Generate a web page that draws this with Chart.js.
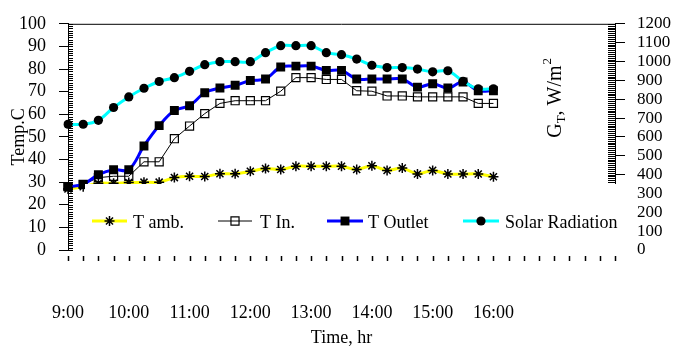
<!DOCTYPE html>
<html>
<head>
<meta charset="utf-8">
<style>
  html, body { margin: 0; padding: 0; background: #fff; }
</style>
<script src="https://cdn.jsdelivr.net/npm/chart.js@4.4.1/dist/chart.umd.min.js"></script>
</head>
<body>
<canvas id="myChart" width="675" height="349"></canvas>
<script>
// Time axis runs to 18:00, the readings stop at 16:00
const timeAxis = ['9:00', '9:15', '9:30', '9:45', '10:00', '10:15', '10:30', '10:45',
    '11:00', '11:15', '11:30', '11:45', '12:00', '12:15', '12:30', '12:45',
    '13:00', '13:15', '13:30', '13:45', '14:00', '14:15', '14:30', '14:45',
    '15:00', '15:15', '15:30', '15:45', '16:00', '16:15', '16:30', '16:45',
    '17:00', '17:15', '17:30', '17:45', '18:00'];
const hourLabels = ['9:00', '10:00', '11:00', '12:00', '13:00', '14:00', '15:00', '16:00'];

// Temperatures (C)
const tAmb = [27, 28, 29.5, 29.5, 29.8, 30, 30, 32, 32.6, 32.5, 33.7, 33.7, 34.8, 36, 35.6,
    37, 37, 37, 37, 35.6, 37.2, 35.2, 36.2, 33.6, 35.2, 33.6, 33.6, 33.6, 32.4];
const tIn = [28, 29, 32, 32.6, 32.6, 39, 39, 49.2, 54.8, 60.3, 64.8, 66, 66, 66, 70.2,
    76.2, 76.2, 75.4, 75.4, 70.4, 70.2, 68.1, 68.1, 67.7, 67.7, 67.7, 67.7, 64.8, 64.8];
const tOutlet = [28, 29, 33.3, 35.5, 35.5, 46, 55, 61.7, 63.8, 69.5, 71.6, 72.8, 74.9, 75.6, 80.9,
    81.3, 81.3, 79.4, 79.4, 75.6, 75.6, 75.6, 75.6, 72, 73.5, 71.6, 74.3, 70.4, 70.4];
// Solar radiation (W/m2)
const solarRad = [667, 667, 688, 756, 812, 858, 894, 914, 948, 983, 999, 999, 999, 1047, 1084,
    1084, 1084, 1047, 1036, 1013, 980, 968, 968, 960, 945, 951, 895, 855, 855];

const serif = "'Liberation Serif', 'Times New Roman', serif";
Chart.defaults.font.family = serif;
Chart.defaults.font.size = 18;
Chart.defaults.color = '#000';

// legend is drawn by hand inside the plot, on a white box
const legendPos = [
    { x1: 92, x2: 127, tx: 133 },
    { x1: 218, x2: 252, tx: 260 },
    { x1: 327, x2: 363, tx: 368 },
    { x1: 463, x2: 499, tx: 505 }
];

function drawMarker(ctx, ds, x, y, r) {
    ctx.fillStyle = ds.pointBackgroundColor;
    ctx.strokeStyle = ds.pointBorderColor;
    ctx.lineWidth = ds.pointBorderWidth;
    Chart.helpers.drawPoint(ctx, {
        pointStyle: ds.pointStyle,
        radius: r || ds.pointRadius,
        rotation: 0,
        borderWidth: ds.pointBorderWidth
    }, x, y);
}

const decorations = {
    id: 'decorations',
    afterDraw(chart) {
        const { ctx, chartArea: a, scales } = chart;
        const x = scales.x, y = scales.y, y2 = scales.y2;
        ctx.save();
        ctx.strokeStyle = '#000';
        ctx.lineWidth = 1;

        // top frame
        ctx.beginPath();
        ctx.moveTo(a.left, a.top + 0.5);
        ctx.lineTo(a.right, a.top + 0.5);
        ctx.stroke();

        // small inner ticks
        ctx.beginPath();
        for (let v = 0; v <= 100; v++) {
            const py = Math.round(y.getPixelForValue(v)) + 0.5;
            ctx.moveTo(a.left, py);
            ctx.lineTo(a.left + 5, py);
        }
        for (let v = 0; v <= 1200; v += 10) {
            const py = Math.round(y2.getPixelForValue(v)) + 0.5;
            ctx.moveTo(a.right - 7, py);
            ctx.lineTo(a.right, py);
        }
        ctx.stroke();

        // time tick marks, set a little below the plot
        ctx.lineWidth = 1.5;
        ctx.beginPath();
        timeAxis.forEach((t, i) => {
            const px = Math.round(x.getPixelForValue(i)) + 0.5;
            ctx.moveTo(px, a.bottom + 6);
            ctx.lineTo(px, a.bottom + 11);
        });
        ctx.stroke();

        // right axis title  G_T, W/m^2
        ctx.save();
        ctx.translate(a.right - 54, a.top + 114);
        ctx.rotate(-Math.PI / 2);
        ctx.fillStyle = '#000';
        ctx.textBaseline = 'alphabetic';
        let cx = 0;
        ctx.font = '20px ' + serif;
        ctx.fillText('G', cx, 0);
        cx += ctx.measureText('G').width;
        ctx.font = '13px ' + serif;
        ctx.fillText('T', cx, 4);
        cx += ctx.measureText('T').width;
        ctx.font = '20px ' + serif;
        ctx.fillText(', W/m', cx, 0);
        cx += ctx.measureText(', W/m').width;
        ctx.font = '13px ' + serif;
        ctx.fillText('2', cx + 1, -10);
        ctx.restore();

        // legend box
        ctx.fillStyle = '#fff';
        ctx.fillRect(85, 184, 541, 68);
        const ly = 221;
        chart.data.datasets.forEach((ds, i) => {
            const p = legendPos[i];
            ctx.strokeStyle = ds.borderColor;
            ctx.lineWidth = ds.borderWidth;
            ctx.beginPath();
            ctx.moveTo(p.x1, ly);
            ctx.lineTo(p.x2, ly);
            ctx.stroke();
            drawMarker(ctx, ds, (p.x1 + p.x2) / 2, ly);
            ctx.fillStyle = '#000';
            ctx.font = '18px ' + serif;
            ctx.textBaseline = 'middle';
            ctx.fillText(ds.label, p.tx, ly + 2);
        });
        ctx.restore();
    }
};

const ctx = document.getElementById('myChart').getContext('2d');
const chart = new Chart(ctx, {
    type: 'line',
    data: {
        labels: timeAxis,
        datasets: [
            {
                label: 'T amb.',
                data: tAmb,
                yAxisID: 'y',
                borderColor: '#ffff00',
                borderWidth: 3,
                pointStyle: 'star',
                pointRadius: 5,
                pointBackgroundColor: '#000',
                pointBorderColor: '#000',
                pointBorderWidth: 1.5,
                tension: 0.35,
                order: 3
            },
            {
                label: 'T In.',
                data: tIn,
                yAxisID: 'y',
                borderColor: '#000',
                borderWidth: 1,
                pointStyle: 'rect',
                pointRadius: 5.7,
                pointBackgroundColor: 'rgba(255,255,255,0)',
                pointBorderColor: '#000',
                pointBorderWidth: 1.2,
                tension: 0,
                order: 2
            },
            {
                label: 'T Outlet',
                data: tOutlet,
                yAxisID: 'y',
                borderColor: '#0000ff',
                borderWidth: 3,
                pointStyle: 'rect',
                pointRadius: 6.3,
                pointBackgroundColor: '#000',
                pointBorderColor: '#000',
                pointBorderWidth: 0,
                tension: 0.35,
                order: 1
            },
            {
                label: 'Solar Radiation',
                data: solarRad,
                yAxisID: 'y2',
                borderColor: '#00ffff',
                borderWidth: 3,
                pointStyle: 'circle',
                pointRadius: 4.6,
                pointBackgroundColor: '#000',
                pointBorderColor: '#000',
                pointBorderWidth: 0,
                tension: 0.35,
                order: 0
            }
        ]
    },
    options: {
        responsive: false,
        animation: false,
        layout: { padding: { left: 0, right: 0, top: 15, bottom: 0 } },
        plugins: { legend: { display: false }, tooltip: { enabled: false } },
        scales: {
            x: {
                type: 'category',
                offset: false,
                grid: { display: false, drawTicks: false },
                border: { display: false },
                ticks: {
                    autoSkip: false,
                    maxRotation: 0,
                    padding: 52,
                    callback: (v, i) => hourLabels.includes(timeAxis[i]) ? timeAxis[i] : ''
                },
                title: { display: true, text: 'Time, hr', padding: 0 },
                afterFit: (s) => { s.height = 99; }
            },
            y: {
                position: 'left',
                min: 0,
                max: 100,
                ticks: { stepSize: 10, padding: 13, autoSkip: false },
                grid: { drawOnChartArea: false, tickLength: 9, color: '#000' },
                border: { color: '#000' },
                title: { display: true, text: 'Temp.C', padding: { top: 8, bottom: 0 } },
                afterFit: (s) => { s.width = 68; }
            },
            y2: {
                position: 'right',
                min: 0,
                max: 1200,
                ticks: {
                    stepSize: 100,
                    padding: 12,
                    autoSkip: false,
                    font: { size: 17 },
                    callback: (v) => String(v)
                },
                grid: { drawOnChartArea: false, tickLength: 10, color: '#000' },
                border: { color: '#000' },
                afterFit: (s) => { s.width = 60; }
            }
        }
    },
    plugins: [decorations]
});
</script>
</body>
</html>
